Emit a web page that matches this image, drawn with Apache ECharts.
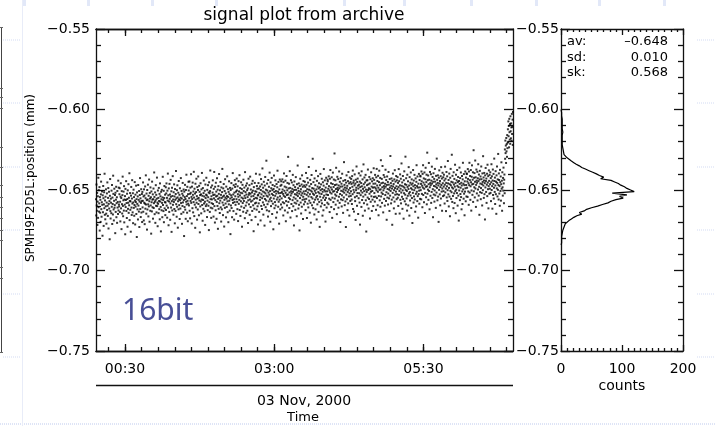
<!DOCTYPE html>
<html><head><meta charset="utf-8">
<script src="https://cdn.jsdelivr.net/npm/echarts@6/dist/echarts.min.js"></script>
<style>html,body{margin:0;padding:0;background:#fff}#c{width:715px;height:426px}</style>
</head><body><div id="c"></div>
<script>
// ---- texts ----
const titleText = 'signal plot from archive';
const yAxisName = 'SPMH9F2D5L:position (mm)';
const dateText = '03 Nov, 2000';
const xAxisName = 'Time';
const histAxisName = 'counts';
const noteText = '16bit';
const statNames = ['av:', 'sd:', 'sk:'];
const statValues = ['\u20130.648', '0.010', '0.568'];
// ---- ticks ----
const xTickHours = [0.5, 3.0, 5.5];
const xTickLabels = ['00:30', '03:00', '05:30'];
const xMinorPerMajor = 9;
const xAxisStartHour = 0.014;
const xAxisEndHour = 7.0;
const yMin = -0.75, yMax = -0.55, yInterval = 0.05;
const histMax = 200, histInterval = 100;
// ---- samples (evenly spaced in time over the archive window) ----
const sampleStartHour = 0.014;
const sampleEndHour = 7.0;
// position samples in micrometres (value/1000 = mm)
const positionUm = [
-655.7,-665.8,-646.6,-659.6,-662.9,-651.8,-671.7,-657.2,-653.9,-667.3,-642.4,-660.7,-650.1,-663.4,-658.3,-648.2,-675.2,-654.4,-664.1,-656.1,-669.8,-652.7,-644.8,-661.9,-666.6,-657.6,-650.9,-659.2,-678.4,-653.3,-663.8,-647.5,-655.1,-672.3,-658.9,-651.4,-661.3,-639.9,-665.4,-656.5,-668.2,-654.2,-660.1,-649.6,-664.7,-670.9,-657.8,-652.1,-662.4,-645.3,-659.8,-666.1,-654.9,-648.8,-673.9,-658.6,-651.1,-661.5,-656.9,-680.6,-653.6,-643.2,-663.1,-667.7,-655.4,-657.9,-664.4,-650.4,-660.4,-646.9,-671.1,-654.7,-658.7,-665.2,-641.1,-652.4,-662.1,-668.9,-656.7,-649.2,-661.0,-659.4,-653.1,-676.8,-651.7,-663.6,-656.0,-648.0,-666.9,-658.2,-654.5,-670.4,-650.6,-660.9,-657.4,-664.9,-644.2,-662.7,-648.5,-659.0,
-660.2,-652.6,-648.9,-663.7,-657.3,-669.5,-654.1,-645.8,-661.4,-655.0,-674.3,-650.7,-658.8,-664.6,-653.2,-641.7,-659.9,-666.3,-656.4,-651.0,-662.8,-647.6,-670.1,-655.9,-659.1,-653.8,-677.5,-649.3,-660.6,-656.2,-644.5,-663.0,-658.1,-667.4,-652.3,-655.6,-672.8,-650.2,-661.7,-657.9,-646.4,-664.2,-654.8,-659.5,-639.6,-668.7,-656.8,-651.9,-662.3,-657.1,-675.9,-653.5,-648.1,-660.9,-665.5,-655.3,-643.9,-658.4,-663.9,-652.0,-670.6,-657.7,-649.8,-661.1,-654.4,-666.0,-659.3,-645.1,-656.6,-671.4,-652.9,-660.3,-657.5,-647.3,-664.9,-655.7,-679.2,-651.5,-658.6,-662.0,-654.0,-668.3,-646.9,-659.7,-656.1,-663.4,-650.6,-673.0,-657.2,-653.1,-642.6,-661.8,-655.2,-666.8,-658.0,-649.5,-664.0,-656.9,-652.5,-669.9,
-651.2,-660.8,-656.7,-645.3,-663.5,-654.0,-668.9,-649.6,-657.9,-653.4,-671.2,-658.5,-647.8,-661.6,-655.1,-640.9,-659.0,-664.7,-652.2,-656.3,-674.6,-650.0,-662.1,-655.9,-646.7,-658.9,-666.4,-653.6,-660.2,-643.5,-657.0,-669.7,-651.8,-655.3,-662.9,-648.4,-659.6,-654.5,-677.1,-650.9,-657.6,-663.3,-644.8,-656.0,-660.7,-652.7,-667.8,-655.7,-649.1,-661.2,-658.2,-639.1,-654.3,-665.0,-657.3,-651.5,-670.4,-656.4,-647.0,-659.8,-653.0,-663.9,-655.4,-642.3,-660.0,-657.8,-672.5,-650.3,-658.6,-654.9,-664.4,-648.7,-656.8,-661.9,-652.4,-668.2,-645.9,-657.2,-653.9,-660.5,-675.7,-651.1,-655.8,-662.6,-649.9,-658.0,-666.9,-654.6,-641.8,-659.3,-656.2,-663.1,-650.5,-670.0,-655.0,-647.5,-661.4,-657.5,-652.9,-665.6,
-657.8,-648.3,-662.4,-652.1,-645.9,-659.7,-654.9,-667.2,-650.4,-656.6,-639.8,-661.0,-653.3,-671.9,-649.0,-657.1,-663.6,-646.2,-655.5,-652.8,-668.5,-658.3,-643.7,-654.2,-660.9,-650.8,-676.0,-656.9,-648.6,-662.7,-653.7,-641.4,-659.2,-655.9,-665.3,-651.4,-657.4,-646.5,-661.8,-654.0,-670.7,-649.4,-656.1,-663.0,-652.5,-638.2,-658.8,-655.2,-666.6,-650.1,-660.4,-647.1,-654.6,-673.4,-657.0,-651.7,-662.0,-644.4,-655.8,-659.4,-653.0,-668.0,-648.9,-656.4,-661.5,-654.8,-642.6,-658.1,-664.8,-650.6,-655.3,-671.0,-652.3,-659.9,-645.6,-657.7,-653.5,-663.8,-649.7,-656.3,-678.6,-651.0,-660.6,-654.4,-646.8,-662.2,-655.6,-667.9,-650.0,-657.3,-640.5,-659.0,-653.8,-664.1,-648.0,-656.7,-669.4,-652.6,-658.5,-644.9,
-650.3,-659.6,-655.1,-644.7,-662.9,-652.4,-667.6,-648.5,-656.8,-651.7,-640.2,-658.0,-654.3,-670.8,-647.9,-655.6,-661.3,-645.4,-653.0,-663.9,-650.9,-657.5,-638.7,-654.7,-666.2,-649.2,-659.1,-652.2,-673.5,-646.1,-656.0,-660.8,-651.3,-643.0,-657.9,-653.8,-668.4,-648.2,-655.4,-662.1,-650.0,-641.6,-658.7,-654.9,-665.7,-647.4,-656.5,-651.1,-676.3,-653.2,-660.2,-645.8,-657.1,-652.7,-664.5,-649.6,-655.9,-639.4,-659.3,-653.6,-669.1,-648.8,-656.2,-661.7,-651.9,-644.1,-658.4,-654.0,-663.2,-650.5,-657.3,-671.7,-646.6,-655.0,-660.0,-652.9,-642.4,-658.9,-653.4,-666.8,-649.9,-656.6,-662.5,-647.0,-654.5,-659.8,-651.5,-674.9,-645.2,-657.6,-652.0,-663.6,-650.7,-637.9,-655.7,-661.0,-648.4,-667.3,-653.9,-658.2,
-655.8,-647.2,-661.4,-651.6,-644.0,-658.7,-653.1,-666.5,-649.3,-655.2,-638.8,-660.0,-652.9,-670.2,-648.0,-656.3,-662.6,-645.5,-654.0,-651.0,-667.9,-657.4,-642.7,-653.6,-659.9,-649.8,-674.1,-655.5,-647.6,-661.7,-652.4,-640.1,-658.2,-654.8,-664.3,-650.2,-656.6,-645.0,-660.8,-653.0,-669.6,-648.4,-655.0,-662.0,-651.3,-636.9,-657.8,-654.1,-665.6,-649.0,-659.4,-646.3,-653.5,-672.7,-656.1,-650.6,-661.1,-643.3,-654.7,-658.4,-652.1,-667.0,-647.9,-655.4,-660.5,-653.8,-641.5,-657.0,-663.8,-649.5,-654.3,-670.0,-651.2,-658.9,-644.6,-656.7,-652.6,-662.8,-648.7,-655.3,-677.4,-650.0,-659.6,-653.3,-645.7,-661.2,-654.6,-666.9,-649.1,-656.2,-639.5,-658.0,-652.8,-663.1,-647.0,-655.7,-668.4,-651.6,-657.5,-643.9,
-648.1,-653.9,-659.2,-646.4,-651.0,-664.8,-655.7,-642.9,-650.3,-657.4,-661.9,-647.7,-652.6,-669.3,-654.2,-644.5,-658.6,-650.9,-656.1,-640.8,-662.4,-653.3,-648.8,-666.1,-651.7,-657.0,-645.2,-660.3,-654.7,-649.4,-672.8,-652.0,-646.8,-658.1,-655.3,-663.5,-643.6,-650.6,-656.8,-661.1,-648.5,-653.6,-667.5,-638.9,-655.0,-651.3,-659.7,-647.3,-664.2,-652.8,-657.7,-645.9,-650.1,-662.9,-654.4,-649.0,-670.5,-656.4,-643.0,-653.0,-658.9,-651.9,-647.0,-665.4,-655.9,-641.7,-652.3,-660.6,-649.7,-657.2,-654.0,-668.7,-646.1,-651.5,-663.0,-656.6,-644.3,-650.4,-659.5,-653.7,-675.6,-648.2,-655.5,-661.6,-652.5,-645.6,-658.3,-650.8,-666.7,-654.9,-639.9,-657.9,-651.1,-662.2,-647.5,-655.2,-649.2,-660.1,-653.4,-671.4,
-653.0,-645.7,-658.3,-649.1,-663.6,-651.8,-640.4,-656.2,-647.8,-654.5,-668.9,-650.0,-643.2,-659.9,-652.7,-646.5,-661.8,-655.1,-636.6,-650.9,-657.7,-648.6,-665.3,-653.8,-644.9,-659.2,-651.4,-672.1,-647.2,-655.6,-641.9,-652.1,-660.7,-649.8,-656.5,-631.8,-653.5,-662.6,-646.0,-650.3,-658.8,-654.1,-666.5,-643.8,-651.6,-657.1,-648.0,-663.2,-652.9,-639.2,-655.8,-650.7,-669.7,-645.3,-654.8,-660.0,-648.9,-656.9,-642.5,-652.4,-664.9,-650.1,-646.9,-658.5,-653.2,-674.4,-649.4,-655.3,-641.0,-651.2,-661.3,-647.6,-657.5,-653.6,-644.0,-659.6,-650.6,-667.2,-652.2,-646.3,-655.9,-663.9,-648.3,-638.0,-654.6,-651.0,-660.4,-645.0,-657.3,-652.0,-670.9,-649.6,-656.0,-643.5,-653.9,-662.0,-647.4,-651.9,-659.0,-644.6,
-646.8,-655.2,-651.3,-660.9,-643.4,-649.7,-657.6,-652.4,-665.8,-645.1,-653.6,-639.7,-658.2,-650.5,-647.9,-662.7,-654.3,-644.2,-651.8,-669.4,-656.9,-648.4,-641.3,-653.1,-659.6,-650.2,-645.6,-664.0,-652.8,-629.4,-657.4,-649.0,-654.9,-646.1,-661.2,-651.5,-638.3,-655.7,-648.7,-667.1,-653.4,-643.9,-650.8,-658.7,-652.1,-645.3,-663.1,-649.3,-656.3,-640.6,-651.1,-660.1,-647.0,-654.6,-672.0,-650.0,-644.7,-657.9,-652.6,-648.2,-662.3,-655.4,-642.0,-649.9,-658.4,-653.0,-666.3,-646.4,-651.7,-656.7,-634.8,-653.8,-648.9,-661.5,-650.6,-645.9,-659.2,-652.3,-675.1,-647.5,-655.0,-643.0,-651.0,-657.8,-649.5,-664.6,-653.3,-646.6,-660.4,-640.9,-652.0,-656.1,-648.0,-668.0,-654.2,-644.4,-650.9,-658.9,-647.2,-655.8,
-652.4,-644.9,-657.3,-648.1,-662.5,-650.6,-639.4,-655.5,-646.8,-653.0,-667.4,-649.5,-642.6,-658.5,-651.6,-645.4,-660.8,-654.0,-635.7,-649.8,-656.6,-647.7,-664.1,-652.6,-643.7,-658.0,-650.3,-670.3,-646.3,-654.4,-640.7,-651.0,-659.5,-648.8,-655.3,-630.6,-652.3,-661.3,-645.1,-649.2,-657.6,-653.0,-665.2,-642.8,-650.5,-656.0,-647.0,-662.0,-651.8,-638.1,-654.6,-649.6,-668.3,-644.3,-653.7,-658.9,-647.9,-655.8,-641.4,-651.3,-663.6,-649.0,-645.8,-657.4,-652.1,-672.9,-648.3,-654.2,-640.0,-650.1,-660.2,-646.5,-656.4,-652.5,-643.0,-658.3,-649.4,-665.9,-651.1,-645.2,-654.8,-662.6,-647.3,-637.0,-653.5,-650.0,-659.3,-644.0,-656.2,-650.9,-669.6,-648.5,-654.9,-642.4,-652.8,-660.9,-646.2,-650.8,-657.9,-643.6,
-644.6,-653.1,-649.2,-658.8,-641.5,-647.6,-655.4,-650.3,-663.7,-643.0,-651.5,-637.6,-656.1,-648.4,-645.8,-660.6,-652.2,-642.1,-649.7,-667.3,-654.8,-646.3,-639.2,-651.0,-657.5,-648.1,-643.5,-661.9,-650.7,-627.3,-655.3,-646.9,-652.8,-644.0,-659.1,-649.4,-636.2,-653.6,-646.6,-665.0,-651.3,-641.8,-648.7,-656.6,-650.0,-643.2,-661.0,-647.2,-654.2,-638.5,-649.0,-658.0,-644.9,-652.5,-669.9,-647.9,-642.6,-655.8,-650.5,-646.1,-660.2,-653.3,-639.9,-647.8,-656.3,-650.9,-664.2,-644.3,-649.6,-654.6,-632.7,-651.7,-646.8,-659.4,-648.5,-643.8,-657.1,-650.2,-673.0,-645.4,-652.9,-640.9,-648.9,-655.7,-647.4,-662.5,-651.2,-644.5,-658.3,-638.8,-649.9,-654.0,-645.9,-665.9,-652.1,-642.3,-648.8,-656.8,-645.1,-653.7,
-650.8,-643.1,-646.2,-655.9,-658.7,-641.4,-648.0,-652.6,-637.9,-661.8,-645.5,-649.9,-644.2,-663.4,-651.4,-647.1,-640.3,-654.5,-656.9,-646.0,-668.6,-643.6,-650.1,-648.6,-635.4,-653.8,-659.8,-645.0,-651.9,-642.9,-647.3,-664.9,-649.1,-655.1,-639.6,-646.7,-652.0,-657.8,-644.8,-671.5,-648.2,-641.0,-653.2,-650.4,-645.7,-660.5,-638.4,-647.7,-656.2,-651.6,-643.4,-666.0,-649.3,-654.1,-634.1,-646.4,-658.2,-650.7,-642.2,-648.3,-662.8,-645.3,-652.9,-640.6,-656.4,-649.8,-675.8,-644.1,-651.2,-647.0,-659.0,-643.9,-654.7,-637.3,-650.0,-646.5,-661.5,-648.9,-655.6,-641.9,-652.3,-645.9,-667.7,-649.5,-643.3,-657.3,-651.1,-639.0,-653.9,-647.9,-663.0,-644.6,-650.6,-656.0,-642.7,-648.5,-660.0,-646.1,-636.5,-654.3,
-643.7,-651.9,-648.3,-657.2,-640.6,-646.0,-654.1,-649.0,-662.3,-642.1,-650.2,-636.9,-655.0,-647.2,-644.4,-659.5,-651.1,-641.2,-648.6,-665.7,-653.7,-645.1,-638.0,-649.9,-656.4,-647.0,-642.5,-660.4,-649.6,-631.5,-654.0,-645.8,-651.6,-643.1,-658.0,-648.3,-635.1,-652.5,-645.5,-663.9,-650.2,-640.7,-647.6,-655.5,-648.9,-642.0,-659.7,-646.1,-653.1,-637.4,-647.9,-656.8,-643.8,-651.4,-668.5,-646.8,-641.6,-654.7,-649.4,-645.0,-659.0,-652.2,-638.8,-646.7,-655.2,-649.8,-663.0,-643.2,-648.5,-653.5,-628.9,-650.6,-645.7,-658.3,-647.4,-642.8,-656.0,-649.1,-671.6,-644.3,-651.8,-639.8,-647.8,-654.6,-646.3,-661.4,-650.1,-643.4,-657.2,-637.7,-648.8,-652.9,-644.8,-664.8,-651.0,-641.3,-647.7,-655.7,-644.0,-652.6,
-649.4,-642.0,-654.8,-645.6,-659.9,-648.2,-637.0,-653.0,-644.5,-650.6,-664.6,-647.1,-640.3,-656.1,-649.2,-643.0,-658.3,-651.6,-633.5,-647.4,-654.2,-645.3,-661.7,-650.2,-641.3,-655.6,-647.9,-667.8,-643.9,-652.0,-638.4,-648.6,-657.0,-646.4,-652.9,-629.3,-649.9,-658.9,-642.7,-646.8,-655.2,-650.6,-662.8,-640.5,-648.1,-653.6,-644.6,-659.6,-649.4,-635.8,-652.2,-647.2,-665.9,-642.0,-651.3,-656.5,-645.5,-653.4,-639.1,-648.9,-661.2,-646.6,-643.4,-655.0,-649.7,-670.5,-645.9,-651.8,-637.6,-647.7,-657.8,-644.1,-654.0,-650.1,-640.6,-655.9,-647.0,-663.5,-648.7,-642.8,-652.4,-660.2,-644.9,-634.6,-651.1,-647.6,-656.9,-641.6,-653.8,-648.5,-667.2,-646.1,-652.5,-640.0,-650.4,-658.5,-643.8,-648.4,-655.5,-641.2,
-641.6,-650.1,-646.2,-655.8,-638.5,-644.6,-652.4,-647.3,-660.7,-640.0,-648.5,-634.6,-653.1,-645.4,-642.8,-657.6,-649.2,-639.1,-646.7,-664.3,-651.8,-643.3,-636.2,-648.0,-654.5,-645.1,-640.5,-658.9,-647.7,-626.8,-652.3,-643.9,-649.8,-641.0,-656.1,-646.4,-633.2,-650.6,-643.6,-662.0,-648.3,-638.8,-645.7,-653.6,-647.0,-640.2,-658.0,-644.2,-651.2,-635.5,-646.0,-655.0,-641.9,-649.5,-666.9,-644.9,-639.6,-652.8,-647.5,-643.1,-657.2,-650.3,-636.9,-644.8,-653.3,-647.9,-661.1,-641.2,-646.5,-651.6,-630.5,-648.7,-643.7,-656.4,-645.6,-640.9,-654.1,-647.2,-669.8,-642.4,-649.9,-637.8,-645.9,-652.7,-644.4,-659.5,-648.2,-641.4,-655.3,-635.8,-646.9,-651.0,-642.9,-662.9,-649.1,-639.3,-645.8,-653.8,-642.1,-650.7,
-647.9,-640.5,-653.3,-644.1,-658.4,-646.7,-635.5,-651.5,-643.0,-649.1,-663.1,-645.6,-638.8,-654.6,-647.7,-641.5,-656.8,-650.1,-632.0,-645.9,-652.7,-643.8,-660.2,-648.7,-639.8,-654.1,-646.4,-666.3,-642.4,-650.5,-636.9,-647.1,-655.5,-644.9,-651.4,-628.1,-648.4,-657.4,-641.2,-645.3,-653.7,-649.1,-661.3,-639.0,-646.6,-652.1,-643.1,-658.1,-647.9,-634.3,-650.7,-645.7,-664.4,-640.5,-649.8,-655.0,-644.0,-651.9,-637.6,-647.4,-659.7,-645.1,-641.9,-653.5,-648.2,-669.0,-644.4,-650.3,-636.1,-646.2,-656.3,-642.6,-652.5,-648.6,-639.1,-654.4,-645.5,-662.0,-647.2,-641.3,-650.9,-658.7,-643.4,-633.1,-649.6,-646.1,-655.4,-640.1,-652.3,-647.0,-665.7,-644.6,-651.0,-638.5,-648.9,-657.0,-642.3,-646.9,-654.0,-639.7,
-640.1,-648.6,-644.7,-654.3,-637.0,-643.1,-650.9,-645.8,-659.2,-638.5,-647.0,-633.1,-651.6,-643.9,-641.3,-656.1,-647.7,-637.6,-645.2,-662.8,-650.3,-641.8,-634.7,-646.5,-653.0,-643.6,-639.0,-657.4,-646.2,-625.3,-650.8,-642.4,-648.3,-639.5,-654.6,-644.9,-631.7,-649.1,-642.1,-660.5,-646.8,-637.3,-644.2,-652.1,-645.5,-638.7,-656.5,-642.7,-649.7,-634.0,-644.5,-653.5,-640.4,-648.0,-665.4,-643.4,-638.1,-651.3,-646.0,-641.6,-655.7,-648.8,-635.4,-643.3,-651.8,-646.4,-659.6,-639.7,-645.0,-650.1,-629.0,-647.2,-642.2,-654.9,-644.1,-639.4,-652.6,-645.7,-668.3,-640.9,-648.4,-636.3,-644.4,-651.2,-642.9,-658.0,-646.7,-639.9,-653.8,-634.3,-645.4,-649.5,-641.4,-661.4,-647.6,-637.8,-644.3,-652.3,-640.6,-649.2,
-646.4,-639.0,-651.8,-642.6,-656.9,-645.2,-634.0,-650.0,-641.5,-647.6,-661.6,-644.1,-637.3,-653.1,-646.2,-640.0,-655.3,-648.6,-630.5,-644.4,-651.2,-642.3,-658.7,-647.2,-638.3,-652.6,-644.9,-664.8,-640.9,-649.0,-635.4,-645.6,-654.0,-643.4,-649.9,-627.6,-646.9,-655.9,-639.7,-643.8,-652.2,-647.6,-659.8,-637.5,-645.1,-650.6,-641.6,-656.6,-646.4,-632.8,-649.2,-644.2,-662.9,-639.0,-648.3,-653.5,-642.5,-650.4,-636.1,-645.9,-658.2,-643.6,-640.4,-652.0,
-624.8,-630.6,-619.3,-627.1,-622.4,-633.2,-617.7,-626.0,-621.5,-629.4,-615.9,-624.0,-620.6,
-612.3,-620.1,-607.4,-616.6,-610.2,-623.5,-605.8,-614.1,-618.7,-609.0,-621.3,-604.2,-613.5,-617.9,-608.6,-611.1,-619.4,-602.7,-615.2,-610.8,-606.3,-622.0,-601.5
];
// ---- histogram ----
const histBinMm = [
-0.600,-0.601,-0.602,-0.603,-0.604,-0.605,-0.606,-0.607,-0.608,-0.609,
-0.610,-0.611,-0.612,-0.613,-0.614,-0.615,-0.616,-0.617,-0.618,-0.619,
-0.620,-0.621,-0.622,-0.623,-0.624,-0.625,-0.626,-0.627,-0.628,-0.629,
-0.630,-0.631,-0.632,-0.633,-0.634,-0.635,-0.636,-0.637,-0.638,-0.639,
-0.640,-0.641,-0.642,-0.643,-0.644,-0.645,-0.646,-0.647,-0.648,-0.649,
-0.650,-0.651,-0.652,-0.653,-0.654,-0.655,-0.656,-0.657,-0.658,-0.659,
-0.660,-0.661,-0.662,-0.663,-0.664,-0.665,-0.666,-0.667,-0.668,-0.669,
-0.670,-0.671,-0.672,-0.673,-0.674,-0.675,-0.676,-0.677,-0.678,-0.679,
-0.680,-0.681,-0.682,-0.683,-0.684
];
const histCounts = [
0,1,1,2,1,1,2,1,2,3,
2,3,2,2,3,2,2,3,2,3,
2,3,2,2,3,3,4,3,5,7,
10,13,17,21,25,30,34,40,46,52,
58,63,70,65,82,88,94,98,104,108,
114,120,84,108,96,102,90,82,77,68,
60,50,42,38,30,34,26,21,17,13,
10,7,8,5,6,3,4,2,3,1,
2,1,1,1,0
];

// ---- build ----
const chart = echarts.init(document.getElementById('c'), null, {renderer: 'canvas'});
const N = positionUm.length;
const dt = (sampleEndHour - sampleStartHour) / (N - 1);
const scatterData = positionUm.map((v, i) => [sampleStartHour + i * dt, v / 1000]);
const histData = histCounts.map((c, i) => [c, histBinMm[i]]);

const minorStep = (xTickHours[1] - xTickHours[0]) / xMinorPerMajor;
const xMinorHours = [];
for (let t = xTickHours[0] - minorStep; t > xAxisStartHour; t -= minorStep) xMinorHours.push(+t.toFixed(6));
for (let t = xTickHours[0]; t < xAxisEndHour; t += minorStep) xMinorHours.push(+t.toFixed(6));

const FONT = 'DejaVu Sans';
const LS = {color: '#111', width: 1.3};
const yFmt = v => v.toFixed(2).replace('-', '\u2212');
const xFmt = v => { const i = xTickHours.findIndex(h => Math.abs(h - v) < 1e-6); return i >= 0 ? xTickLabels[i] : ''; };

function timeAxis(pos, ticks, len, labels) {
  return {
    gridIndex: 0, type: 'value', min: xAxisStartHour, max: xAxisEndHour, position: pos,
    axisLine: {show: true, onZero: false, lineStyle: LS},
    axisTick: {show: true, inside: true, length: len, customValues: ticks, lineStyle: LS},
    axisLabel: labels ? {show: true, customValues: xTickHours, formatter: xFmt, margin: 11,
      fontFamily: FONT, fontSize: 14, color: '#000'} : {show: false},
    splitLine: {show: false}, minorTick: {show: false}
  };
}
function valAxis(grid, pos, labels, margin) {
  return {
    gridIndex: grid, type: 'value', min: yMin, max: yMax, interval: yInterval, position: pos,
    axisLine: {show: true, onZero: false, lineStyle: LS},
    axisTick: {show: true, inside: true, length: 9, lineStyle: LS},
    minorTick: {show: true, splitNumber: 5, length: 5, lineStyle: LS},
    axisLabel: labels ? {show: true, formatter: yFmt, margin: margin, fontFamily: FONT, fontSize: 14, color: '#000'} : {show: false},
    splitLine: {show: false}
  };
}
function histAxis(pos, labels) {
  return {
    gridIndex: 1, type: 'value', min: 0, max: histMax, interval: histInterval, position: pos,
    axisLine: {show: true, onZero: false, lineStyle: LS},
    axisTick: {show: true, inside: true, length: 6, lineStyle: LS},
    minorTick: {show: true, splitNumber: 10, length: 3, lineStyle: LS},
    axisLabel: labels ? {show: true, margin: 11, fontFamily: FONT, fontSize: 14, color: '#000'} : {show: false},
    splitLine: {show: false}
  };
}

const bg = '#d3dbf3';
const graphics = [];
// slide background decorations
[40, 103, 167, 230, 294, 357].forEach(y => {
  graphics.push({type: 'line', silent: true, shape: {x1: 3, y1: y, x2: 21, y2: y}, style: {stroke: bg, lineWidth: 1, lineDash: [1, 1]}});
  graphics.push({type: 'line', silent: true, shape: {x1: 697, y1: y, x2: 715, y2: y}, style: {stroke: bg, lineWidth: 1, lineDash: [1, 1]}});
});
graphics.push({type: 'line', silent: true, shape: {x1: 0, y1: 424, x2: 715, y2: 424}, style: {stroke: bg, lineWidth: 1.5, lineDash: [1, 1]}});
graphics.push({type: 'line', silent: true, shape: {x1: 22.5, y1: 0, x2: 22.5, y2: 426}, style: {stroke: '#e8ecf8', lineWidth: 1}});
[23, 87, 151, 215, 343, 403, 470, 535, 598, 663].forEach(x => {
  graphics.push({type: 'rect', silent: true, shape: {x: x, y: 0, width: 3, height: 6}, style: {fill: '#e2e8f8'}});
});
graphics.push({type: 'line', silent: true, shape: {x1: 1.5, y1: 27, x2: 1.5, y2: 352}, style: {stroke: '#444', lineWidth: 1}});
[27, 88, 97, 108, 147, 167, 185, 197, 207, 218, 230, 240, 267, 278, 352].forEach(y => {
  graphics.push({type: 'line', silent: true, shape: {x1: 0, y1: y + 0.5, x2: 3, y2: y + 0.5}, style: {stroke: '#666', lineWidth: 1}});
});
// texts
const txt = (text, x, y, size, align, extra) => Object.assign({type: 'text', silent: true, x: x, y: y,
  style: {text: text, fill: '#000', font: size + 'px "' + FONT + '"', align: align, verticalAlign: 'middle'}}, extra || {});
graphics.push(txt(titleText, 304, 16, 17, 'center'));
graphics.push(txt(yAxisName, 31, 178, 12, 'center', {rotation: Math.PI / 2}));
graphics.push({type: 'line', silent: true, shape: {x1: 96, y1: 385.5, x2: 513, y2: 385.5}, style: {stroke: '#111', lineWidth: 1.3}});
graphics.push(txt(dateText, 304, 401, 14, 'center'));
graphics.push(txt(xAxisName, 303, 418, 13, 'center'));
graphics.push(txt(histAxisName, 622, 386, 14, 'center'));
statNames.forEach((s, i) => {
  graphics.push(txt(s, 567, 42 + i * 15.5, 13, 'left'));
  graphics.push(txt(statValues[i], 668, 42 + i * 15.5, 13, 'right'));
});
graphics.push({type: 'text', silent: true, x: 122, y: 311,
  style: {text: noteText, fill: '#484f96', font: '30px "Noto Sans"', align: 'left', verticalAlign: 'middle'}});

const option = {
  animation: false,
  backgroundColor: '#fff',
  grid: [
    {left: 96, top: 29, width: 417, height: 322, outerBoundsMode: 'none', containLabel: false},
    {left: 561, top: 29, width: 122, height: 322, outerBoundsMode: 'none', containLabel: false}
  ],
  xAxis: [
    timeAxis('bottom', xTickHours, 7, true),
    timeAxis('top', xTickHours, 7, false),
    timeAxis('bottom', xMinorHours, 4, false),
    timeAxis('top', xMinorHours, 4, false),
    histAxis('bottom', true),
    histAxis('top', false)
  ],
  yAxis: [
    valAxis(0, 'left', true, 6),
    valAxis(0, 'right', true, 3),
    valAxis(1, 'left', false),
    valAxis(1, 'right', false)
  ],
  series: [
    {type: 'scatter', xAxisIndex: 0, yAxisIndex: 0, data: scatterData, symbol: 'rect', symbolSize: 2,
      itemStyle: {color: '#000'}, silent: true, progressive: 0, large: false},
    {type: 'line', xAxisIndex: 4, yAxisIndex: 2, data: histData, showSymbol: false, symbol: 'none',
      lineStyle: {color: '#000', width: 1.2}, silent: true}
  ],
  graphic: graphics
};
chart.setOption(option);
</script></body></html>
